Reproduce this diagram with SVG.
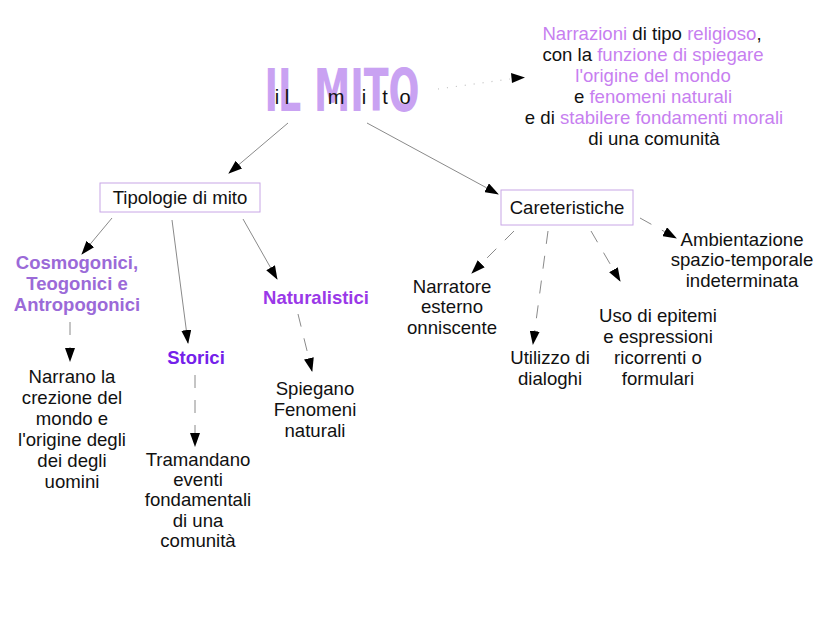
<svg xmlns="http://www.w3.org/2000/svg" width="828" height="621" viewBox="0 0 828 621">
<style>
text{font-family:"Liberation Sans",Arial,sans-serif;font-size:18.6px;fill:#111;text-anchor:middle}
.d{font-size:18.6px}
.p{fill:#c77ff0}
.h{font-weight:bold;font-size:18.5px}
.box{fill:#fff;stroke:#c8a6e6;stroke-width:1}
.ln{stroke:#8a8a8a;stroke-width:1;fill:none}
.ds{stroke-dasharray:13 12}
.dot{stroke:#c0c0c0;stroke-width:1.2;stroke-dasharray:1 8;fill:none}
</style>
<defs>
<marker id="ah" markerUnits="userSpaceOnUse" markerWidth="14" markerHeight="10" refX="13" refY="5" orient="auto">
<path d="M0,0 L14,5 L0,10 z" fill="#000"/>
</marker>
</defs>
<rect width="828" height="621" fill="#fff"/>
<g id="connectors">
<line class="ln" x1="288" y1="123" x2="229" y2="173" marker-end="url(#ah)"/>
<line class="ln" x1="367" y1="123" x2="498" y2="194" marker-end="url(#ah)"/>
<line class="ln" x1="112" y1="218" x2="82" y2="254" marker-end="url(#ah)"/>
<line class="ln" x1="172" y1="220" x2="188" y2="343" marker-end="url(#ah)"/>
<line class="ln" x1="243" y1="219" x2="277" y2="279" marker-end="url(#ah)"/>
<line class="ln ds" x1="70" y1="322" x2="70" y2="361" marker-end="url(#ah)"/>
<line class="ln ds" x1="195" y1="375" x2="195" y2="446" marker-end="url(#ah)"/>
<line class="ln ds" x1="298" y1="314" x2="312" y2="371" marker-end="url(#ah)"/>
<line class="ln ds" x1="514" y1="231" x2="472" y2="273" marker-end="url(#ah)"/>
<line class="ln ds" x1="548" y1="231" x2="533" y2="344" marker-end="url(#ah)"/>
<line class="ln ds" x1="591" y1="231" x2="620" y2="281" marker-end="url(#ah)"/>
<line class="ln ds" x1="640" y1="218" x2="676" y2="238" marker-end="url(#ah)"/>
<line class="dot" x1="438" y1="89" x2="510" y2="79"/>
<path d="M511,73 L525,77.5 L512,83 z" fill="#000"/>
</g>
<g id="title">
<text x="342" y="111" style="font-family:'DejaVu Sans',sans-serif;font-weight:bold;font-size:58px;fill:#c9a2f2" textLength="155" lengthAdjust="spacingAndGlyphs">IL MITO</text>
<text y="104" style="font-size:20px"><tspan x="277">i</tspan><tspan x="287">l</tspan><tspan x="336">m</tspan><tspan x="364">i</tspan><tspan x="385">t</tspan><tspan x="405">o</tspan></text>
</g>
<g id="definition">
<text class="d" x="652" y="40"><tspan class="p">Narrazioni</tspan> di tipo <tspan class="p">religioso</tspan>,</text>
<text class="d" x="653" y="61">con la <tspan class="p">funzione di spiegare</tspan></text>
<text class="d p" x="653" y="82">l'origine del mondo</text>
<text class="d" x="653" y="103">e <tspan class="p">fenomeni naturali</tspan></text>
<text class="d" x="654" y="124">e di <tspan class="p">stabilere fondamenti morali</tspan></text>
<text class="d" x="654" y="145">di una comunità</text>
</g>
<g id="tipologie">
<rect class="box" x="100" y="183" width="160" height="29"/>
<text x="180" y="204">Tipologie di mito</text>
</g>
<g id="careteristiche">
<rect class="box" x="501" y="190" width="132" height="35"/>
<text x="567" y="214">Careteristiche</text>
</g>
<g id="cosmogonici">
<text class="h" style="fill:#9b6ad8" x="77" y="269">Cosmogonici,</text>
<text class="h" style="fill:#9b6ad8" x="77" y="290">Teogonici e</text>
<text class="h" style="fill:#9b6ad8" x="77" y="311">Antropogonici</text>
</g>
<g id="storici">
<text class="h" style="fill:#7420ea" x="196" y="364">Storici</text>
</g>
<g id="naturalistici">
<text class="h" style="fill:#9a38e8" x="316" y="304">Naturalistici</text>
</g>
<g id="narrano">
<text x="72" y="383">Narrano la</text>
<text x="72" y="404">crezione del</text>
<text x="72" y="425">mondo e</text>
<text x="72" y="446">l'origine degli</text>
<text x="72" y="467">dei degli</text>
<text x="72" y="488">uomini</text>
</g>
<g id="tramandano">
<text x="198" y="466">Tramandano</text>
<text x="198" y="486">eventi</text>
<text x="198" y="506">fondamentali</text>
<text x="198" y="527">di una</text>
<text x="198" y="547">comunità</text>
</g>
<g id="spiegano">
<text x="315" y="395">Spiegano</text>
<text x="315" y="416">Fenomeni</text>
<text x="315" y="437">naturali</text>
</g>
<g id="narratore">
<text x="452" y="293">Narratore</text>
<text x="452" y="313">esterno</text>
<text x="452" y="334">onniscente</text>
</g>
<g id="utilizzo">
<text x="550" y="364">Utilizzo di</text>
<text x="550" y="385">dialoghi</text>
</g>
<g id="uso">
<text x="658" y="322">Uso di epitemi</text>
<text x="658" y="343">e espressioni</text>
<text x="658" y="364">ricorrenti o</text>
<text x="658" y="385">formulari</text>
</g>
<g id="ambientazione">
<text x="742" y="246">Ambientazione</text>
<text x="742" y="266">spazio-temporale</text>
<text x="742" y="287">indeterminata</text>
</g>
</svg>
